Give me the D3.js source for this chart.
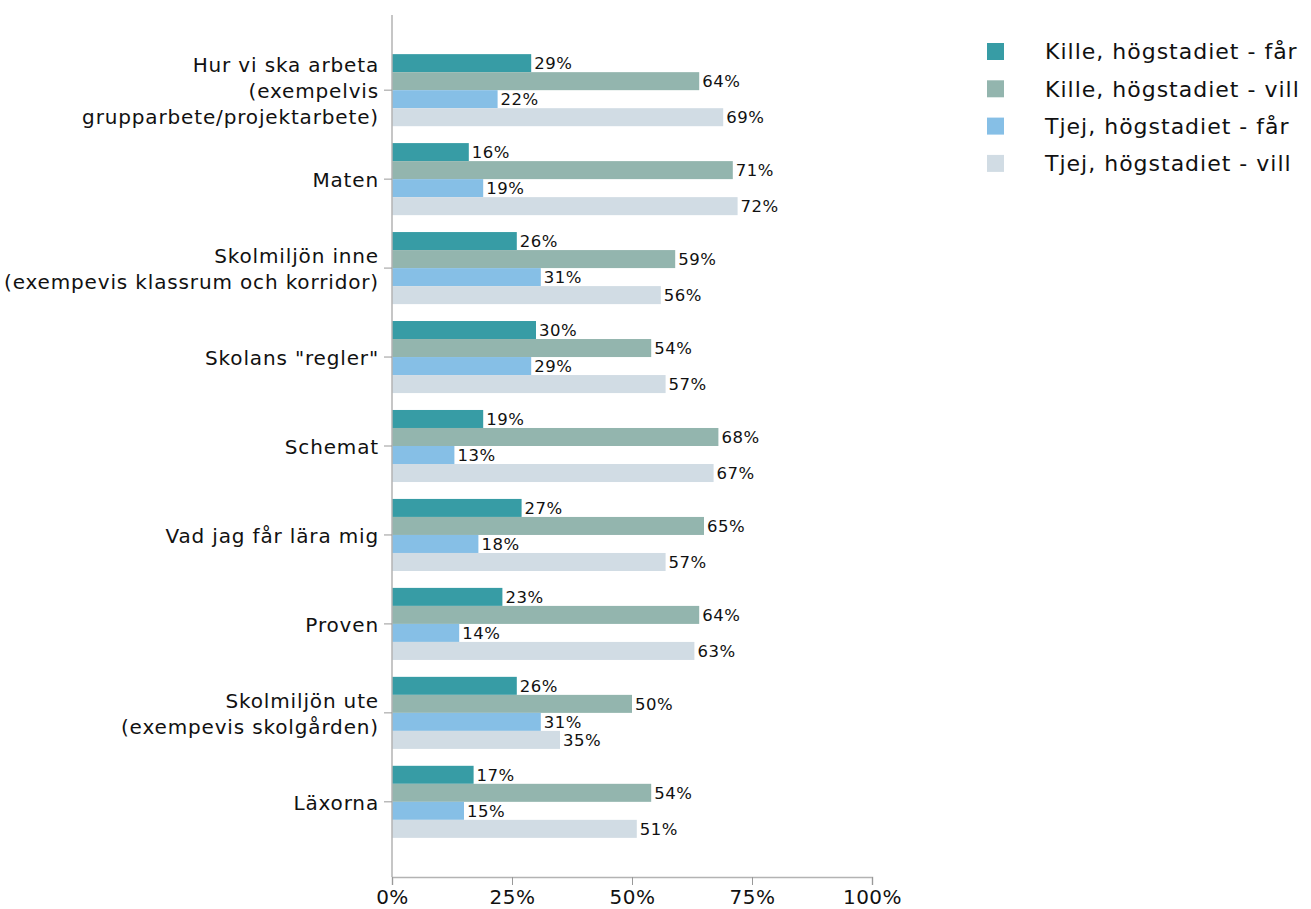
<!DOCTYPE html>
<html>
<head>
<meta charset="utf-8">
<script src="https://cdn.jsdelivr.net/npm/d3@7"></script>
<style>
  body { margin: 0; background: #fff; }
  svg text { font-family: "DejaVu Sans", "Noto Sans", sans-serif; fill: #111; }
</style>
</head>
<body>
<div id="chart"></div>
<script>
// categories (lines of each label) and series
var categories = [
    ["Hur vi ska arbeta", "(exempelvis", "grupparbete/projektarbete)"],
    ["Maten"],
    ["Skolmiljön inne", "(exempevis klassrum och korridor)"],
    ["Skolans \"regler\""],
    ["Schemat"],
    ["Vad jag får lära mig"],
    ["Proven"],
    ["Skolmiljön ute", "(exempevis skolgården)"],
    ["Läxorna"]
];
var seriesNames = ["Kille, högstadiet - får", "Kille, högstadiet - vill", "Tjej, högstadiet - får", "Tjej, högstadiet - vill"];
var killeFar  = [29, 16, 26, 30, 19, 27, 23, 26, 17];
var killeVill = [64, 71, 59, 54, 68, 65, 64, 50, 54];
var tjejFar   = [22, 19, 31, 29, 13, 18, 14, 31, 15];
var tjejVill  = [69, 72, 56, 57, 67, 57, 63, 35, 51];
var xTicks = [0, 25, 50, 75, 100];
var colors = ["#379ca5", "#93b5ae", "#86bfe6", "#d1dce4"];

var series = [killeFar, killeVill, tjejFar, tjejVill];

var w = 1311, h = 909;
var mLeft = 392, mRight = 872, mTop = 15, mBottom = 877;

var svg = d3.select("#chart").append("svg")
    .attr("width", w)
    .attr("height", h);

var x = d3.scaleLinear().domain([0, 100]).range([mLeft, mRight]);

var y0 = d3.scaleBand()
    .domain(d3.range(categories.length))
    .range([mTop, mBottom])
    .paddingInner(0.19)
    .paddingOuter(0.44);

var y1 = d3.scaleBand()
    .domain(d3.range(series.length))
    .range([0, y0.bandwidth()]);

// bars
var groups = svg.append("g").selectAll("g")
    .data(categories)
    .enter().append("g")
    .attr("transform", function(d, i) { return "translate(0," + y0(i) + ")"; });

groups.each(function(c, i) {
    var g = d3.select(this);
    series.forEach(function(s, j) {
        g.append("rect")
            .attr("x", x(0))
            .attr("y", y1(j))
            .attr("width", x(s[i]) - x(0))
            .attr("height", y1.bandwidth())
            .style("fill", colors[j]);
    });
    series.forEach(function(s, j) {
        g.append("text")
            .attr("x", x(s[i]) + 3)
            .attr("y", y1(j) + y1.bandwidth() / 2)
            .attr("dy", "0.36em")
            .style("font-size", "16.5px")
            .style("letter-spacing", "0.5px")
            .text(s[i] + "%");
    });
});

// y axis
var yAxis = svg.append("g");
yAxis.append("line")
    .attr("x1", mLeft).attr("x2", mLeft)
    .attr("y1", mTop).attr("y2", mBottom)
    .style("stroke", "#b3b3b3").style("stroke-width", 1.5);

categories.forEach(function(c, i) {
    var cy = y0(i) + y0.bandwidth() / 2;
    yAxis.append("line")
        .attr("x1", mLeft - 8).attr("x2", mLeft)
        .attr("y1", cy).attr("y2", cy)
        .style("stroke", "#999");
    var lh = 26;
    var t = yAxis.append("text")
        .attr("text-anchor", "end")
        .style("font-size", "20px")
        .style("letter-spacing", "0.85px");
    c.forEach(function(line, k) {
        t.append("tspan")
            .attr("x", mLeft - 13)
            .attr("y", cy + 1 + (k - (c.length - 1) / 2) * lh)
            .attr("dy", "0.35em")
            .text(line);
    });
});

// x axis
var xAxis = d3.axisBottom(x)
    .tickValues(xTicks)
    .tickSize(8)
    .tickPadding(5)
    .tickFormat(function(d) { return d + "%"; });

var gx = svg.append("g")
    .attr("transform", "translate(0," + mBottom + ")")
    .call(xAxis);
gx.select(".domain").style("stroke", "#b3b3b3").style("stroke-width", 1.5);
gx.selectAll(".tick line").style("stroke", "#999");
gx.selectAll(".tick text")
    .style("font-size", "20px")
    .style("letter-spacing", "0.5px")
    .style("font-family", "'DejaVu Sans', sans-serif")
    .style("fill", "#111");

// legend
var legend = svg.append("g").selectAll("g")
    .data(seriesNames)
    .enter().append("g")
    .attr("transform", function(d, i) { return "translate(987," + (43 + i * 37.3) + ")"; });

legend.append("rect")
    .attr("width", 17).attr("height", 17)
    .style("fill", function(d, i) { return colors[i]; });

legend.append("text")
    .attr("x", 58)
    .attr("y", 8.5)
    .attr("dy", "0.36em")
    .style("font-size", "22px")
    .style("letter-spacing", "1px")
    .text(function(d) { return d; });
</script>
</body>
</html>
